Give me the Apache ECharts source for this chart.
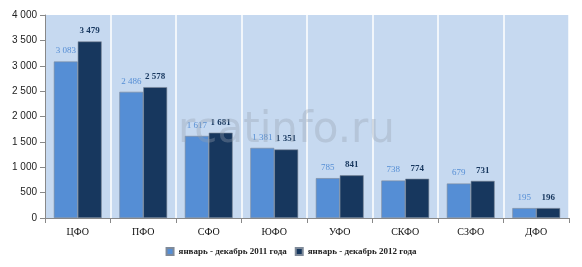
<!DOCTYPE html>
<html><head><meta charset="utf-8">
<script src="https://cdn.jsdelivr.net/npm/echarts@6/dist/echarts.min.js"></script>
<style>html,body{margin:0;padding:0;background:#fff}#c{width:582px;height:267px}</style>
</head><body><div id="c"></div>
<script>
var categories = ['ЦФО','ПФО','СФО','ЮФО','УФО','СКФО','СЗФО','ДФО'];
var values2011 = [3083, 2486, 1617, 1381, 785, 738, 679, 195];
var values2012 = [3479, 2578, 1681, 1351, 841, 774, 731, 196];
var seriesNames = ['январь - декабрь 2011 года', 'январь - декабрь 2012 года'];
var yTicks = {min: 0, max: 4000, interval: 500};

function fmt(v){ return String(v).replace(/\B(?=(\d{3})+(?!\d))/g, ' '); }
var serif = '"Liberation Serif", "DejaVu Serif", serif';
var sans = '"Liberation Sans", Arial, sans-serif';
var chart = echarts.init(document.getElementById('c'));
chart.setOption({
  animation: false,
  grid: {left: 45, right: 13, top: 15, bottom: 49, show: true, backgroundColor: '#c6d9f0', borderWidth: 0},
  graphic: [{
    type: 'text', left: 178, top: 110, z: 100, silent: true,
    style: {text: 'rcatinfo.ru', font: '42px "DejaVu Sans", sans-serif', fill: 'rgba(150,160,175,0.35)'}
  }],
  legend: {
    bottom: 6, left: 'center', itemWidth: 7, itemHeight: 7, itemGap: 8,
    icon: 'rect',
    textStyle: {fontFamily: serif, fontSize: 9, fontWeight: 'bold', color: '#222'},
    data: seriesNames
  },
  xAxis: {
    type: 'category', data: categories,
    axisLine: {lineStyle: {color: '#888'}},
    axisTick: {show: true, alignWithLabel: false, lineStyle: {color: '#888'}},
    axisLabel: {fontFamily: serif, fontSize: 10, color: '#111', margin: 9},
    splitLine: {show: true, lineStyle: {color: '#ffffff', width: 1.5}}
  },
  yAxis: {
    type: 'value', min: yTicks.min, max: yTicks.max, interval: yTicks.interval,
    axisLine: {show: true, lineStyle: {color: '#888'}},
    axisTick: {show: true, lineStyle: {color: '#888'}},
    axisLabel: {fontFamily: sans, fontSize: 10, color: '#222', formatter: fmt},
    splitLine: {show: false}
  },
  series: [{
    name: seriesNames[0], type: 'bar', data: values2011,
    barGap: '0%', barCategoryGap: '27%',
    itemStyle: {color: '#558ed5', borderColor: '#7f8a99', borderWidth: 0.6},
    label: {show: true, position: 'top', distance: 6, fontFamily: serif, fontSize: 9, color: '#558ed5', formatter: function(p){return fmt(p.value);}}
  },{
    name: seriesNames[1], type: 'bar', data: values2012,
    itemStyle: {color: '#17375e', borderColor: '#7f8a99', borderWidth: 0.6},
    label: {show: true, position: 'top', distance: 6, fontFamily: serif, fontSize: 9, fontWeight: 'bold', color: '#17375e', formatter: function(p){return fmt(p.value);}}
  }]
});
</script></body></html>
